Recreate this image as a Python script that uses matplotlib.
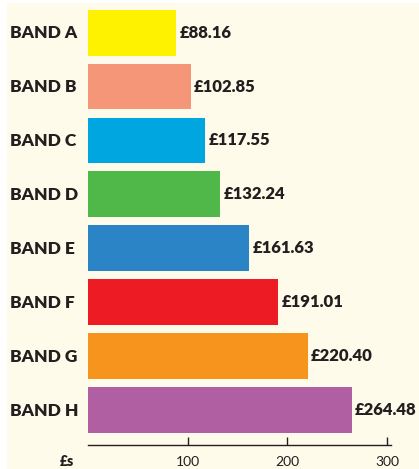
import matplotlib.pyplot as plt
from matplotlib.patches import Rectangle

bands = ["BAND A", "BAND B", "BAND C", "BAND D", "BAND E", "BAND F", "BAND G", "BAND H"]
values = [88.16, 102.85, 117.55, 132.24, 161.63, 191.01, 220.40, 264.48]
colors = ["#FFF200", "#F69679", "#00A6E0", "#4FB848", "#2B84C6", "#ED1C24", "#F7941D", "#B05FA3"]
ticks = [100, 200, 300]

plt.rcParams["font.family"] = ["Lato", "DejaVu Sans"]
bg = "#FEFBEA"
ink = "#231F20"

W, H = 419, 469
fig = plt.figure(figsize=(W / 100, H / 100), dpi=100, facecolor="white")
fig.patches.append(Rectangle((7 / W, 0), 1 - 7 / W, 1 - 3 / H, transform=fig.transFigure,
                             facecolor=bg, edgecolor="none", zorder=-5))

ax = fig.add_axes([88 / W, (H - 445) / H, (391 - 88) / W, 442 / H])
ax.set_facecolor("none")
ax.set_zorder(2)

y = list(range(len(bands)))
ax.barh(y, values, height=0.85, color=colors)
ax.set_xlim(0, 304)
ax.set_ylim(7.65, -0.55)

for i, v in enumerate(values):
    ax.annotate(f"£{v:.2f}", (v, i), xytext=(2.5, 0), textcoords="offset points",
                va="center", ha="left", fontsize=12, fontweight="heavy", color=ink)
    fig.text(10 / W, 1 - (33 + 54 * i) / H, bands[i], va="center", ha="left",
             fontsize=12.5, fontweight="heavy", color=ink)

for s in ["top", "right", "left"]:
    ax.spines[s].set_visible(False)
ax.spines["bottom"].set_color(ink)
ax.spines["bottom"].set_linewidth(1)
ax.set_yticks([])
ax.set_xticks(ticks)
ax.set_xticklabels([str(t) for t in ticks], fontsize=10, color=ink)
ax.tick_params(axis="x", direction="in", length=6, width=1, color=ink, pad=8)

fig.text(60 / W, 1 - 461 / H, "£s", va="center", ha="left", fontsize=10,
         fontweight="heavy", color=ink)

fig.savefig("out.png", dpi=100, facecolor=fig.get_facecolor())
